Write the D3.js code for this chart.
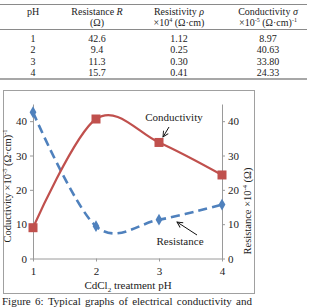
<!DOCTYPE html>
<html>
<head>
<meta charset="utf-8">
<script src="https://cdn.jsdelivr.net/npm/d3@7"></script>
<style>
body { margin: 0; background: white; }
svg { display: block; font-family: "Liberation Serif", "Times New Roman", serif; }
</style>
</head>
<body>
<div id="chart"></div>
<script>
// table + chart values
const ph = [1, 2, 3, 4];
const resistance = [42.6, 9.4, 11.3, 15.7];
const resistivity = [1.12, 0.25, 0.30, 0.41];
const conductivity = [8.97, 40.63, 33.80, 24.33];
const yTicks = [0, 10, 20, 30, 40];
const captionWords = ["Figure", "6:", "Typical", "graphs", "of", "electrical", "conductivity", "and"];

const width = 313, height = 307;

const svg = d3.select('#chart')
.append('svg')
.attr('width', width)
.attr('height', height);

// ---- table ----
const colX = [33, 97, 179, 268];
const ruleColor = '#8a8a8a';
svg.append('line').attr('x1', 0).attr('x2', 307).attr('y1', 4.5).attr('y2', 4.5)
.attr('stroke', ruleColor).attr('stroke-width', 1.2);
svg.append('line').attr('x1', 0).attr('x2', 307).attr('y1', 29.5).attr('y2', 29.5)
.attr('stroke', ruleColor).attr('stroke-width', 1);
svg.append('line').attr('x1', 0).attr('x2', 307).attr('y1', 79).attr('y2', 79)
.attr('stroke', ruleColor).attr('stroke-width', 1.5);

const head = svg.append('g').attr('font-size', 10).attr('fill', '#222').attr('text-anchor', 'middle');
head.append('text').attr('x', colX[0]).attr('y', 15).text('pH');

let t = head.append('text').attr('x', colX[1]).attr('y', 15);
t.append('tspan').text('Resistance ');
t.append('tspan').attr('font-style', 'italic').text('R');
head.append('text').attr('x', colX[1]).attr('y', 26).text('(Ω)');

t = head.append('text').attr('x', colX[2]).attr('y', 15);
t.append('tspan').text('Resistivity ');
t.append('tspan').attr('font-style', 'italic').text('ρ');
t = head.append('text').attr('x', colX[2]).attr('y', 26);
t.append('tspan').text('×10');
t.append('tspan').attr('font-size', 6).attr('dy', -4).text('4');
t.append('tspan').attr('dy', 4).text(' (Ω·cm)');

t = head.append('text').attr('x', colX[3]).attr('y', 15);
t.append('tspan').text('Conductivity ');
t.append('tspan').attr('font-style', 'italic').text('σ');
t = head.append('text').attr('x', colX[3]).attr('y', 26);
t.append('tspan').text('×10');
t.append('tspan').attr('font-size', 6).attr('dy', -4).text('-5');
t.append('tspan').attr('dy', 4).text(' (Ω·cm)');
t.append('tspan').attr('font-size', 6).attr('dy', -4).text('-1');

const rowY = d3.scaleLinear().domain([0, 3]).range([41.5, 76]);
const rows = ph.map((p, i) => [String(p), resistance[i].toFixed(1), resistivity[i].toFixed(2), conductivity[i].toFixed(2)]);
const rowG = svg.append('g').attr('font-size', 10).attr('fill', '#222').attr('text-anchor', 'middle')
.selectAll('g').data(rows).enter().append('g');
rowG.selectAll('text').data((d, i) => d.map(v => ({ v: v, i: i }))).enter()
.append('text')
.attr('x', (d, j) => colX[j])
.attr('y', d => rowY(d.i))
.text(d => d.v);

// ---- chart ----
svg.append('rect').attr('x', 3.5).attr('y', 90.5).attr('width', 251).attr('height', 203)
.attr('fill', 'white').attr('stroke', '#a0a0a0').attr('stroke-width', 1);

const xScale = d3.scaleLinear().domain([1, 4]).range([33, 222]);
const yScale = d3.scaleLinear().domain([0, 45]).range([258.5, 104]);

const axisColor = '#9a9a9a';
const xAxis = svg.append('g').attr('transform', `translate(0,${yScale(0)})`)
.call(d3.axisBottom(xScale).tickValues(ph).tickFormat(d3.format('d')).tickSize(3).tickSizeOuter(0));
const yLeft = svg.append('g').attr('transform', `translate(${xScale(1)},0)`)
.call(d3.axisLeft(yScale).tickValues(yTicks).tickSize(3).tickSizeOuter(0));
const yRight = svg.append('g').attr('transform', `translate(${xScale(4)},0)`)
.call(d3.axisRight(yScale).tickValues(yTicks).tickSize(3).tickSizeOuter(0));
[xAxis, yLeft, yRight].forEach(a => {
a.selectAll('path,line').attr('stroke', axisColor);
a.selectAll('text').attr('fill', '#222').attr('font-size', 11)
.attr('font-family', '"Liberation Serif", serif');
});
xAxis.selectAll('text').attr('dy', '0.95em');

// axis titles
let lt = svg.append('text').attr('transform', 'translate(11,186) rotate(-90)')
.attr('text-anchor', 'middle').attr('font-size', 10.5).attr('fill', '#222');
lt.append('tspan').text('Coductivity ×10');
lt.append('tspan').attr('font-size', 6.5).attr('dy', -4).text('-5');
lt.append('tspan').attr('dy', 4).text(' (Ω·cm)');
lt.append('tspan').attr('font-size', 6.5).attr('dy', -4).text('-1');

let rt = svg.append('text').attr('transform', 'translate(251,211) rotate(-90)')
.attr('text-anchor', 'middle').attr('font-size', 10.5).attr('fill', '#222');
rt.append('tspan').text('Resistance ×10');
rt.append('tspan').attr('font-size', 6.5).attr('dy', -4).text('-4');
rt.append('tspan').attr('dy', 4).text(' (Ω)');

let xt = svg.append('text').attr('x', 128).attr('y', 289)
.attr('text-anchor', 'middle').attr('font-size', 11).attr('fill', '#222');
xt.append('tspan').text('CdCl');
xt.append('tspan').attr('font-size', 7).attr('dy', 3).text('2');
xt.append('tspan').attr('dy', -3).text(' treatment pH');

// series
const red = '#C0504D', blue = '#4F81BD';
const smooth = d3.line().x(d => xScale(d[0])).y(d => yScale(d[1])).curve(d3.curveCardinal.tension(0));
const condPts = ph.map((p, i) => [p, conductivity[i]]);
const resPts = ph.map((p, i) => [p, resistance[i]]);

svg.append('path').datum(resPts).attr('d', smooth)
.attr('fill', 'none').attr('stroke', blue).attr('stroke-width', 2.6)
.attr('stroke-dasharray', '9,5');
svg.append('path').datum(condPts).attr('d', smooth)
.attr('fill', 'none').attr('stroke', red).attr('stroke-width', 2.2);

svg.append('g').selectAll('rect').data(condPts).enter().append('rect')
.attr('x', d => xScale(d[0]) - 4.5).attr('y', d => yScale(d[1]) - 4.5)
.attr('width', 9).attr('height', 9).attr('fill', red);
svg.append('g').selectAll('path').data(resPts).enter().append('path')
.attr('d', d3.symbol(d3.symbolDiamond, 40))
.attr('transform', d => `translate(${xScale(d[0])},${yScale(d[1])})`)
.attr('fill', blue);

// annotations
svg.append('defs').append('marker').attr('id', 'ah')
.attr('viewBox', '0 0 10 10').attr('refX', 9).attr('refY', 5)
.attr('markerWidth', 7).attr('markerHeight', 7).attr('orient', 'auto')
.append('path').attr('d', 'M1,1 L9,5 L1,9').attr('fill', 'none').attr('stroke', '#111').attr('stroke-width', 1.3);

svg.append('text').attr('x', 174).attr('y', 121).attr('text-anchor', 'middle')
.attr('font-size', 11).attr('fill', '#222').text('Conductivity');
svg.append('line').attr('x1', 169).attr('y1', 127).attr('x2', 163).attr('y2', 137)
.attr('stroke', '#111').attr('stroke-width', 1).attr('marker-end', 'url(#ah)');

svg.append('text').attr('x', 180).attr('y', 245).attr('text-anchor', 'middle')
.attr('font-size', 11).attr('fill', '#222').text('Resistance');
svg.append('line').attr('x1', 197).attr('y1', 235).attr('x2', 177).attr('y2', 222)
.attr('stroke', '#111').attr('stroke-width', 1).attr('marker-end', 'url(#ah)');

// caption, justified
const cap = svg.append('g').attr('font-size', 11).attr('fill', '#222');
const words = cap.selectAll('text').data(captionWords).enter().append('text')
.attr('y', 305).text(d => d);
const lens = words.nodes().map(n => n.getComputedTextLength());
const gap = (252 - 2 - d3.sum(lens)) / (captionWords.length - 1);
let cx = 2;
words.attr('x', (d, i) => { const x = cx; cx += lens[i] + gap; return x; });
</script>
</body>
</html>
